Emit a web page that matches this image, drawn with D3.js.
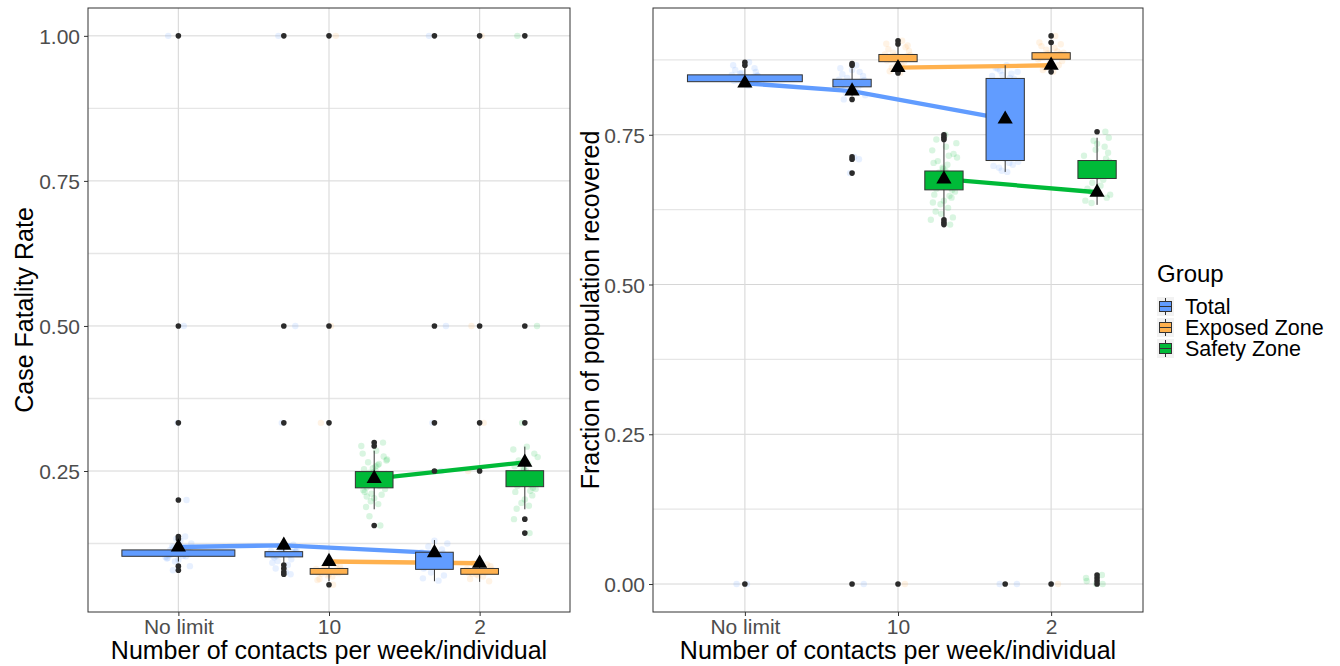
<!DOCTYPE html>
<html>
<head>
<meta charset="utf-8">
<script src="https://cdn.jsdelivr.net/npm/d3@7"></script>
<style>
  body { margin: 0; background: #fff; }
  svg { font-family: "Liberation Sans", Arial, sans-serif; }
</style>
</head>
<body>
<div id="chart"></div>
<script>
const categories = ["No limit", "10", "2"];
const groups = ["Total", "Exposed Zone", "Safety Zone"];
const groupColors = ["#619CFF", "#FFB14E", "#00BA38"];

// one row per box, same order in both panels
const boxCat = ["No limit", "10", "10", "10", "2", "2", "2"];
const boxGroup = ["Total", "Total", "Exposed Zone", "Safety Zone", "Total", "Exposed Zone", "Safety Zone"];

// Case fatality rate
const cfrLo = [0.094, 0.092, 0.060, 0.184, 0.060, 0.059, 0.184];
const cfrQ1 = [0.103, 0.102, 0.072, 0.221, 0.0805, 0.072, 0.223];
const cfrQ3 = [0.114, 0.111, 0.082, 0.249, 0.110, 0.082, 0.2505];
const cfrHi = [0.128, 0.121, 0.090, 0.285, 0.131, 0.092, 0.292];
const cfrMean = [0.119, 0.122, 0.094, 0.237, 0.109, 0.091, 0.265];
const cfrOutliers = [
  [1, 0.5, 0.333, 0.2, 0.137, 0.133, 0.086, 0.079],
  [1, 0.5, 0.333, 0.088, 0.082, 0.076, 0.072],
  [1, 0.5, 0.333, 0.054],
  [0.299, 0.293, 0.156],
  [1, 0.5, 0.333, 0.25],
  [1, 0.5, 0.333, 0.25],
  [1, 0.5, 0.333, 0.167, 0.143]
];
const cfrPoints = [
  [0.100, 0.104, 0.108, 0.111, 0.106, 0.113, 0.109, 0.102, 0.115, 0.118, 0.107, 0.110, 0.112, 0.105, 0.103, 0.120, 0.125, 0.097, 0.094, 0.116, 0.099, 0.108, 0.114, 0.130, 0.137, 0.133, 0.086, 0.079, 0.2, 0.333, 0.5, 1],
  [0.103, 0.106, 0.109, 0.111, 0.104, 0.107, 0.110, 0.112, 0.105, 0.108, 0.115, 0.118, 0.120, 0.101, 0.098, 0.095, 0.113, 0.109, 0.106, 0.123, 0.092, 0.088, 0.082, 0.076, 0.072, 0.333, 0.5, 1],
  [0.074, 0.076, 0.078, 0.080, 0.073, 0.077, 0.079, 0.081, 0.075, 0.083, 0.086, 0.070, 0.068, 0.064, 0.089, 0.078, 0.076, 0.072, 0.082, 0.074, 0.062, 0.054, 0.333, 0.5, 1],
  [0.236, 0.241, 0.228, 0.245, 0.222, 0.250, 0.232, 0.238, 0.226, 0.247, 0.219, 0.255, 0.260, 0.214, 0.209, 0.265, 0.270, 0.203, 0.198, 0.275, 0.280, 0.193, 0.188, 0.285, 0.234, 0.243, 0.229, 0.240, 0.231, 0.248, 0.224, 0.253, 0.217, 0.262, 0.211, 0.268, 0.206, 0.258, 0.299, 0.293, 0.156, 0.172],
  [0.082, 0.086, 0.090, 0.095, 0.100, 0.104, 0.108, 0.110, 0.088, 0.093, 0.098, 0.102, 0.106, 0.084, 0.115, 0.120, 0.125, 0.130, 0.075, 0.070, 0.065, 0.061, 0.097, 0.092, 0.25, 0.333, 0.5, 1],
  [0.074, 0.076, 0.078, 0.080, 0.073, 0.077, 0.079, 0.081, 0.075, 0.083, 0.086, 0.070, 0.068, 0.064, 0.089, 0.091, 0.078, 0.076, 0.072, 0.060, 0.25, 0.333, 0.5, 1],
  [0.236, 0.241, 0.228, 0.245, 0.224, 0.250, 0.232, 0.238, 0.226, 0.247, 0.219, 0.255, 0.262, 0.214, 0.208, 0.268, 0.274, 0.201, 0.195, 0.280, 0.287, 0.190, 0.185, 0.292, 0.234, 0.243, 0.230, 0.240, 0.221, 0.252, 0.216, 0.258, 0.167, 0.143, 0.333, 0.5, 1]
];

// Fraction of population recovered
const recLo = [0.830, 0.815, 0.860, 0.612, 0.688, 0.860, 0.633];
const recQ1 = [0.8386, 0.830, 0.872, 0.658, 0.707, 0.876, 0.677];
const recQ3 = [0.850, 0.8426, 0.884, 0.6895, 0.844, 0.887, 0.707];
const recHi = [0.862, 0.861, 0.900, 0.740, 0.866, 0.900, 0.745];
const recMean = [0.836, 0.823, 0.862, 0.676, 0.776, 0.866, 0.654];
const recOutliers = [
  [0.871, 0.866, 0],
  [0.869, 0.866, 0.809, 0.713, 0.709, 0.686, 0],
  [0.907, 0.9015, 0.856, 0.853, 0],
  [0.750, 0.746, 0.742, 0.608, 0.604, 0.600],
  [0],
  [0.915, 0.904, 0.855, 0],
  [0.755, 0, 0.005, 0.010, 0.015]
];
const recPoints = [
  [0.840, 0.843, 0.846, 0.849, 0.841, 0.844, 0.847, 0.850, 0.838, 0.852, 0.855, 0.835, 0.832, 0.858, 0.845, 0.842, 0.848, 0.836, 0.853, 0.861, 0.866, 0.871, 0, 0],
  [0.832, 0.835, 0.838, 0.841, 0.833, 0.836, 0.839, 0.842, 0.830, 0.845, 0.848, 0.827, 0.824, 0.851, 0.855, 0.820, 0.816, 0.858, 0.837, 0.834, 0.861, 0.866, 0.809, 0.713, 0.709, 0.686, 0],
  [0.874, 0.877, 0.880, 0.883, 0.875, 0.878, 0.881, 0.884, 0.872, 0.887, 0.890, 0.869, 0.866, 0.893, 0.896, 0.862, 0.879, 0.876, 0.882, 0.899, 0.902, 0.907, 0.856, 0.853, 0],
  [0.672, 0.678, 0.665, 0.684, 0.660, 0.690, 0.669, 0.675, 0.662, 0.687, 0.655, 0.695, 0.700, 0.650, 0.645, 0.706, 0.712, 0.640, 0.634, 0.718, 0.724, 0.628, 0.622, 0.730, 0.674, 0.681, 0.667, 0.677, 0.658, 0.693, 0.648, 0.703, 0.637, 0.715, 0.618, 0.736, 0.742, 0.750, 0.612, 0.608, 0.600],
  [0.840, 0.845, 0.850, 0.855, 0.860, 0.866, 0.843, 0.848, 0.852, 0.857, 0.838, 0.835, 0.830, 0.862, 0.700, 0.695, 0.705, 0.710, 0.690, 0.715, 0.698, 0.703, 0.720, 0.688, 0.725, 0.760, 0, 0],
  [0.878, 0.881, 0.884, 0.887, 0.879, 0.882, 0.885, 0.876, 0.889, 0.892, 0.873, 0.870, 0.895, 0.898, 0.866, 0.862, 0.880, 0.883, 0.886, 0.901, 0.904, 0.915, 0.858, 0.855, 0],
  [0.690, 0.695, 0.700, 0.705, 0.685, 0.680, 0.710, 0.715, 0.675, 0.670, 0.720, 0.725, 0.665, 0.660, 0.730, 0.655, 0.650, 0.735, 0.740, 0.645, 0.640, 0.692, 0.698, 0.688, 0.703, 0.683, 0.745, 0.636, 0.755, 0, 0, 0.005, 0.010, 0.015]
];

const cfrTicks = [0.25, 0.5, 0.75, 1];
const recTicks = [0, 0.25, 0.5, 0.75];
const minorTicks = [0.125, 0.375, 0.625, 0.875];

// fixed horizontal jitter pattern (fraction of the jitter half-width)
const jitterOffsets = [-0.8, 0.35, -0.2, 0.9, -0.55, 0.1, 0.65, -0.95, 0.45, -0.35, 0.8, -0.1, 0.25, -0.7, 0.55,
  -0.45, 0.95, 0.0, -0.25, 0.7, -0.85, 0.3, -0.6, 0.15, 0.5, -0.15, 0.85, -0.4, 0.6, -0.05, 0.4, -0.75];

const W = 1340, H = 666;
const svg = d3.select("#chart").append("svg").attr("width", W).attr("height", H);

const color = d3.scaleOrdinal().domain(groups).range(groupColors);

function drawPanel(p) {
  const g = svg.append("g");
  const x = d3.scalePoint().domain(categories).range([p.left, p.right]).padding(0.6);
  const y = d3.scaleLinear().domain(p.yDomain).range([p.bottom, p.top]);
  const step = x.step();

  // dodge positions
  const rows = boxCat.map((c, i) => {
    const inCat = boxCat.map((cc, j) => cc === c ? j : -1).filter(j => j >= 0);
    const n = inCat.length, k = inCat.indexOf(i);
    return {
      cat: c, group: boxGroup[i],
      xc: x(c) + (k - (n - 1) / 2) * step * 0.9 / n,
      bw: step * 0.75 / n,
      lo: p.lo[i], q1: p.q1[i], q3: p.q3[i], hi: p.hi[i], mean: p.mean[i],
      outliers: p.outliers[i], points: p.points[i]
    };
  });

  // grid
  g.append("g").selectAll("line").data(minorTicks).enter().append("line")
    .attr("x1", p.left).attr("x2", p.right)
    .attr("y1", d => y(d)).attr("y2", d => y(d))
    .attr("stroke", "#E6E6E6").attr("stroke-width", 1.4);
  g.append("g").selectAll("line").data(p.ticks).enter().append("line")
    .attr("x1", p.left).attr("x2", p.right)
    .attr("y1", d => y(d)).attr("y2", d => y(d))
    .attr("stroke", "#D6D6D6").attr("stroke-width", 1);
  g.append("g").selectAll("line").data(categories).enter().append("line")
    .attr("x1", d => x(d)).attr("x2", d => x(d))
    .attr("y1", p.top).attr("y2", p.bottom)
    .attr("stroke", "#DCDCDC").attr("stroke-width", 1.2);

  // jittered points
  rows.forEach(r => {
    g.append("g").selectAll("circle").data(r.points).enter().append("circle")
      .attr("cx", (d, i) => r.xc + jitterOffsets[i % jitterOffsets.length] * step * 0.09)
      .attr("cy", d => y(d))
      .attr("r", 3.2)
      .attr("fill", color(r.group))
      .attr("fill-opacity", 0.15);
  });

  // mean lines
  groups.forEach(grp => {
    const pts = rows.filter(r => r.group === grp);
    g.append("path")
      .datum(pts)
      .attr("fill", "none")
      .attr("stroke", color(grp))
      .attr("stroke-width", 4.3)
      .attr("d", d3.line().x(d => d.xc).y(d => y(d.mean)));
  });

  // boxes
  rows.forEach(r => {
    g.append("line")
      .attr("x1", r.xc).attr("x2", r.xc)
      .attr("y1", y(r.hi)).attr("y2", y(r.lo))
      .attr("stroke", "#333").attr("stroke-width", 1);
    g.append("rect")
      .attr("x", r.xc - r.bw / 2).attr("width", r.bw)
      .attr("y", y(r.q3)).attr("height", y(r.q1) - y(r.q3))
      .attr("fill", color(r.group))
      .attr("stroke", "#333").attr("stroke-width", 1);
    g.append("g").selectAll("circle").data(r.outliers).enter().append("circle")
      .attr("cx", r.xc).attr("cy", d => y(d))
      .attr("r", 2.8).attr("fill", "#2B2B2B");
  });

  // means
  g.append("g").selectAll("path").data(rows).enter().append("path")
    .attr("transform", d => `translate(${d.xc},${y(d.mean)})`)
    .attr("d", d3.symbol(d3.symbolTriangle, 100))
    .attr("fill", "#000");

  // border
  g.append("rect")
    .attr("x", p.left).attr("y", p.top)
    .attr("width", p.right - p.left).attr("height", p.bottom - p.top)
    .attr("fill", "none").attr("stroke", "#333").attr("stroke-width", 1);

  // axes
  const ya = g.append("g")
    .attr("transform", `translate(${p.left},0)`)
    .call(d3.axisLeft(y).tickValues(p.ticks).tickFormat(d3.format(".2f")).tickSize(4).tickPadding(4));
  const xa = g.append("g")
    .attr("transform", `translate(0,${p.bottom})`)
    .call(d3.axisBottom(x).tickSize(4).tickPadding(3));
  [ya, xa].forEach(a => {
    a.select(".domain").remove();
    a.selectAll(".tick line").attr("stroke", "#333");
    a.selectAll(".tick text").attr("fill", "#4D4D4D").style("font-size", "21px");
  });
  ya.selectAll(".tick text").attr("dy", "0.36em");
  xa.selectAll(".tick text").attr("dy", "0.7em");

  g.append("text")
    .attr("x", (p.left + p.right) / 2)
    .attr("y", 659)
    .attr("text-anchor", "middle")
    .style("font-size", "25px")
    .text("Number of contacts per week/individual");

  g.append("text")
    .attr("transform", "rotate(-90)")
    .attr("x", -(p.top + p.bottom) / 2)
    .attr("y", p.yTitleX)
    .attr("text-anchor", "middle")
    .style("font-size", "25px")
    .text(p.yTitle);
}

drawPanel({
  left: 88, right: 570, top: 8, bottom: 612,
  yDomain: [0.007, 1.048], ticks: cfrTicks,
  lo: cfrLo, q1: cfrQ1, q3: cfrQ3, hi: cfrHi, mean: cfrMean,
  outliers: cfrOutliers, points: cfrPoints,
  yTitle: "Case Fatality Rate", yTitleX: 33
});

drawPanel({
  left: 653, right: 1143, top: 8, bottom: 612,
  yDomain: [-0.0467, 0.9616], ticks: recTicks,
  lo: recLo, q1: recQ1, q3: recQ3, hi: recHi, mean: recMean,
  outliers: recOutliers, points: recPoints,
  yTitle: "Fraction of population recovered", yTitleX: 599
});

// Legend
const legend = svg.append("g").attr("transform", "translate(1157,0)");
legend.append("text")
  .attr("x", 0).attr("y", 282)
  .style("font-size", "24px")
  .text("Group");

const item = legend.selectAll(".legend").data(groups).enter().append("g")
  .attr("class", "legend")
  .attr("transform", (d, i) => `translate(0,${297 + i * 21})`);
item.append("rect")
  .attr("width", 17).attr("height", 19)
  .attr("fill", "#F2F2F2");
item.append("line")
  .attr("x1", 8.5).attr("x2", 8.5).attr("y1", 1).attr("y2", 18)
  .attr("stroke", "#333");
item.append("rect")
  .attr("x", 2.5).attr("y", 4.5).attr("width", 12).attr("height", 10)
  .attr("fill", d => color(d)).attr("stroke", "#333");
item.append("line")
  .attr("x1", 2.5).attr("x2", 14.5).attr("y1", 9.5).attr("y2", 9.5)
  .attr("stroke", "#333");
item.append("text")
  .attr("x", 28).attr("y", 9.5).attr("dy", "0.36em")
  .style("font-size", "21.5px")
  .text(d => d);
</script>
</body>
</html>
